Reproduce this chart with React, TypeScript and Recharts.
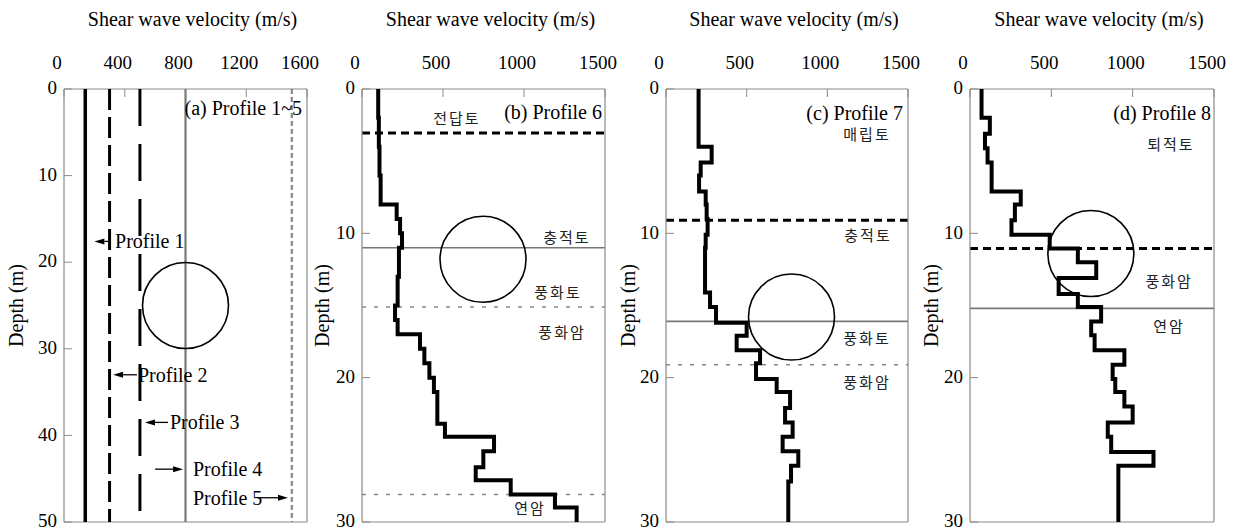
import React from 'react';
import { ScatterChart, Scatter, XAxis, YAxis, ReferenceLine, ReferenceDot } from 'recharts';

const H = 528;
const SERIF = '"Liberation Serif", "Times New Roman", serif';
const KR = '"Noto Sans CJK KR", "Noto Sans", sans-serif';
const GRAY = '#8a8a8a';

// ---------- axes / titles ----------
const xTicksA = [0, 400, 800, 1200, 1600];
const xTicksB = [0, 500, 1000, 1500];
const yTicksA = [0, 10, 20, 30, 40, 50];
const yTicksB = [0, 10, 20, 30];
const axisTitle = 'Shear wave velocity (m/s)';
const depthTitle = 'Depth (m)';
const panelTitles = ['(a) Profile 1~5', '(b) Profile 6', '(c) Profile 7', '(d) Profile 8'];
const panelTitleV = [1567, 1481, 1469, 1482];
const panelTitleD = [2.2, 1.6, 1.66, 1.66];

// ---------- panel (a): uniform profiles ----------
const uniformNames = ['Profile 1', 'Profile 2', 'Profile 3', 'Profile 4', 'Profile 5'];
const uniformVs = [140, 300, 500, 800, 1500];
const uniformArrowDepth = [17.6, 33.0, 38.5, 43.9, 47.2];
const uniformArrowTail = [300, 480, 685, 600, 1270];
const uniformArrowHead = [200, 323, 533, 784, 1475];
const uniformLabelV = [336, 487, 698, 849, 849];

// ---------- panel (b): profile 6 ----------
const p6Depths = [0, 2, 4, 6, 8, 9, 10, 11, 13, 15, 16, 17, 18, 19, 20, 21, 23.2, 24.1, 25.1, 26.2, 27.1, 28.1, 29, 30];
const p6Vs = [100, 104, 108, 115, 214, 235, 247, 228, 220, 204, 220, 358, 385, 416, 444, 465, 512, 815, 749, 702, 918, 1191, 1325];
const p6ThickDashed = [3.05];
const p6Solid = [11.0];
const p6ThinDashed = [15.1, 28.1];
const p6LayerNames = ['전답토', '충적토', '풍화토', '풍화암', '연암'];
const p6LayerV = [586, 1265, 1210, 1235, 1037];
const p6LayerD = [2.0, 10.2, 14.0, 16.8, 29.0];

// ---------- panel (c): profile 7 ----------
const p7Depths = [0, 4, 5.1, 6, 7.1, 8, 9, 10.1, 11, 14.1, 15.1, 16.2, 17.1, 18.1, 19, 20.1, 21, 22.1, 23.1, 24.1, 25.1, 26.1, 27.2, 30];
const p7Vs = [202, 283, 215, 205, 246, 252, 258, 246, 242, 273, 310, 500, 438, 583, 558, 686, 769, 738, 785, 723, 820, 775, 758];
const p7ThickDashed = [9.1];
const p7Solid = [16.1];
const p7ThinDashed = [19.1];
const p7LayerNames = ['매립토', '충적토', '풍화토', '풍화암'];
const p7LayerV = [1246, 1252, 1246, 1246];
const p7LayerD = [3.05, 10.1, 17.2, 20.3];

// ---------- panel (d): profile 8 ----------
const p8Depths = [0, 2, 3.1, 4.1, 5.1, 7.1, 8, 9.1, 10.1, 11.05, 12, 13.1, 14.2, 15.1, 16.1, 17.06, 18.1, 19.1, 20.1, 21, 22, 23.1, 24.1, 25.15, 26.1, 30];
const p8Vs = [71, 122, 92, 108, 133, 312, 276, 255, 490, 663, 776, 545, 663, 806, 745, 766, 949, 877, 893, 949, 1000, 847, 868, 1128, 912];
const p8ThickDashed = [11.05];
const p8Solid = [15.2];
const p8ThinDashed: number[] = [];
const p8LayerNames = ['퇴적토', '풍화암', '연암'];
const p8LayerV = [1235, 1224, 1224];
const p8LayerD = [3.8, 13.25, 16.4];

// ---------- highlighted zones (circles) ----------
const circleV = [800, 747, 778, 743];
const circleD = [25, 11.8, 15.8, 11.4];

function steps(depths: number[], vs: number[]) {
  const pts: { v: number; d: number }[] = [];
  vs.forEach((v, i) => {
    pts.push({ v, d: depths[i] });
    pts.push({ v, d: depths[i + 1] });
  });
  return pts;
}

const noShape = () => <g />;

const textShape = (anchor: string, family: string, size: number, fill: string, spacing = 0) => (p: any) => (
  <text
    x={p.cx}
    y={p.cy}
    textAnchor={anchor}
    dominantBaseline="central"
    fontFamily={family}
    fontSize={size}
    fill={fill}
    letterSpacing={spacing}
  >
    {p.payload.text}
  </text>
);

const Arrow = (p: any) => {
  const { x1, y1, x2, y2 } = p;
  const dx = x2 - x1;
  const dy = y2 - y1;
  const len = Math.hypot(dx, dy) || 1;
  const ux = dx / len;
  const uy = dy / len;
  const hl = 10;
  const hw = 3;
  const bx = x2 - ux * hl;
  const by = y2 - uy * hl;
  return (
    <g>
      <line x1={x1} y1={y1} x2={bx} y2={by} stroke="#000" strokeWidth={1.3} />
      <polygon points={`${x2},${y2} ${bx - uy * hw},${by + ux * hw} ${bx + uy * hw},${by - ux * hw}`} fill="#000" />
    </g>
  );
};

type PanelProps = {
  left: number;
  width: number;
  yAxisWidth: number;
  marginRight: number;
  xMax: number;
  xTicks: number[];
  yMax: number;
  yTicks: number[];
  depthOffset: number;
  children?: React.ReactNode;
};

function Panel({ left, width, yAxisWidth, marginRight, xMax, xTicks, yMax, yTicks, depthOffset, children }: PanelProps) {
  const tickStyle = { fill: '#000', fontSize: 19, fontFamily: SERIF };
  const plotLeft = yAxisWidth;
  const plotRight = width - marginRight - 1;
  const plotTop = 89;
  const plotBottom = H - 5 - 1;
  const titleX = (plotLeft + plotRight) / 2 + 7;
  const depthX = plotLeft + depthOffset;
  const depthY = (plotTop + plotBottom) / 2;
  return (
    <div style={{ position: 'absolute', left, top: 0, width, height: H }}>
      <ScatterChart width={width} height={H} margin={{ top: 0, right: marginRight, bottom: 5, left: 0 }}>
        <XAxis
          type="number"
          dataKey="v"
          orientation="top"
          domain={[0, xMax]}
          ticks={xTicks}
          interval={0}
          height={89}
          tickSize={-8}
          tickMargin={28}
          tick={{ ...tickStyle, dx: -7 }}
          axisLine={{ stroke: GRAY, strokeWidth: 1.2 }}
          tickLine={{ stroke: GRAY }}
          label={() => (
            <text x={titleX} y={26} textAnchor="middle" fontFamily={SERIF} fontSize={20} fill="#000">
              {axisTitle}
            </text>
          )}
        />
        <XAxis
          xAxisId="m"
          type="number"
          orientation="bottom"
          domain={[0, xMax]}
          ticks={xTicks}
          interval={0}
          height={1}
          tickSize={-8}
          tick={false}
          axisLine={{ stroke: GRAY, strokeWidth: 1.2 }}
          tickLine={{ stroke: GRAY }}
        />
        <YAxis
          type="number"
          dataKey="d"
          orientation="left"
          reversed
          domain={[0, yMax]}
          ticks={yTicks}
          interval={0}
          width={yAxisWidth}
          tickSize={-8}
          tickMargin={15}
          tick={{ ...tickStyle, dy: -1.5 }}
          axisLine={{ stroke: GRAY, strokeWidth: 1.2 }}
          tickLine={{ stroke: GRAY }}
          label={() => (
            <text
              x={depthX}
              y={depthY}
              textAnchor="middle"
              dominantBaseline="central"
              transform={`rotate(-90, ${depthX}, ${depthY})`}
              fontFamily={SERIF}
              fontSize={20}
              fill="#000"
            >
              {depthTitle}
            </text>
          )}
        />
        <YAxis
          yAxisId="m"
          type="number"
          orientation="right"
          reversed
          domain={[0, yMax]}
          ticks={yTicks}
          interval={0}
          width={1}
          tickSize={-8}
          tick={false}
          axisLine={{ stroke: GRAY, strokeWidth: 1.2 }}
          tickLine={{ stroke: GRAY }}
        />
        {children}
      </ScatterChart>
    </div>
  );
}

function layerLines(thick: number[], solid: number[], thin: number[], key: string) {
  return [
    ...thick.map((d, i) => (
      <ReferenceLine key={`${key}k${i}`} y={d} stroke="#000" strokeWidth={3} strokeDasharray="8 5" />
    )),
    ...solid.map((d, i) => <ReferenceLine key={`${key}s${i}`} y={d} stroke="#777" strokeWidth={1.6} />),
    ...thin.map((d, i) => (
      <ReferenceLine key={`${key}t${i}`} y={d} stroke="#888" strokeWidth={1.5} strokeDasharray="4 8" />
    )),
  ];
}

function layerLabels(names: string[], vs: number[], ds: number[]) {
  const data = names.map((text, i) => ({ v: vs[i], d: ds[i], text }));
  return (
    <Scatter data={data} shape={textShape('middle', KR, 15, '#222', 2)} isAnimationActive={false} />
  );
}

function panelTitle(i: number) {
  return (
    <Scatter
      data={[{ v: panelTitleV[i], d: panelTitleD[i], text: panelTitles[i] }]}
      shape={textShape('end', SERIF, 20, '#000')}
      isAnimationActive={false}
    />
  );
}

function circle(i: number) {
  return <ReferenceDot x={circleV[i]} y={circleD[i]} r={43} fill="none" stroke="#000" strokeWidth={1.6} />;
}

const uniformLineStyles = [
  { stroke: '#000', strokeWidth: 3.5 },
  { stroke: '#000', strokeWidth: 3, strokeDasharray: '21 7' },
  { stroke: '#000', strokeWidth: 3, strokeDasharray: '37 18' },
  { stroke: '#7a7a7a', strokeWidth: 2.2 },
  { stroke: '#888', strokeWidth: 2.2, strokeDasharray: '5 3' },
];

export default function App() {
  const uniformLabelData = uniformNames.map((text, i) => ({ v: uniformLabelV[i], d: uniformArrowDepth[i], text }));
  return (
    <div style={{ position: 'absolute', left: 0, top: 0, width: 1235, height: H, background: '#fff' }}>
      <Panel left={0} width={330} yAxisWidth={64} marginRight={22} xMax={1600} xTicks={xTicksA} yMax={50} yTicks={yTicksA} depthOffset={-48}>
        {uniformVs.map((v, i) => (
          <Scatter
            key={`u${i}`}
            data={[{ v, d: 0 }, { v, d: 50 }]}
            line={uniformLineStyles[i]}
            lineType="joint"
            shape={noShape}
            isAnimationActive={false}
          />
        ))}
        {circle(0)}
        {uniformArrowDepth.map((d, i) => (
          <ReferenceLine
            key={`ar${i}`}
            segment={[{ x: uniformArrowTail[i], y: d }, { x: uniformArrowHead[i], y: d }]}
            shape={Arrow}
            ifOverflow="visible"
          />
        ))}
        <Scatter data={uniformLabelData} shape={textShape('start', SERIF, 20, '#000')} isAnimationActive={false} />
        {panelTitle(0)}
      </Panel>

      <Panel left={310} width={320} yAxisWidth={52} marginRight={24} xMax={1500} xTicks={xTicksB} yMax={30} yTicks={yTicksB} depthOffset={-40}>
        {layerLines(p6ThickDashed, p6Solid, p6ThinDashed, 'b')}
        {circle(1)}
        <Scatter data={steps(p6Depths, p6Vs)} line={{ stroke: '#000', strokeWidth: 4 }} lineType="joint" shape={noShape} isAnimationActive={false} />
        {layerLabels(p6LayerNames, p6LayerV, p6LayerD)}
        {panelTitle(1)}
      </Panel>

      <Panel left={610} width={325} yAxisWidth={56} marginRight={26} xMax={1500} xTicks={xTicksB} yMax={30} yTicks={yTicksB} depthOffset={-38}>
        {layerLines(p7ThickDashed, p7Solid, p7ThinDashed, 'c')}
        {circle(2)}
        <Scatter data={steps(p7Depths, p7Vs)} line={{ stroke: '#000', strokeWidth: 4 }} lineType="joint" shape={noShape} isAnimationActive={false} />
        {layerLabels(p7LayerNames, p7LayerV, p7LayerD)}
        {panelTitle(2)}
      </Panel>

      <Panel left={915} width={320} yAxisWidth={55} marginRight={20} xMax={1500} xTicks={xTicksB} yMax={30} yTicks={yTicksB} depthOffset={-39}>
        {layerLines(p8ThickDashed, p8Solid, p8ThinDashed, 'd')}
        {circle(3)}
        <Scatter data={steps(p8Depths, p8Vs)} line={{ stroke: '#000', strokeWidth: 4 }} lineType="joint" shape={noShape} isAnimationActive={false} />
        {layerLabels(p8LayerNames, p8LayerV, p8LayerD)}
        {panelTitle(3)}
      </Panel>
    </div>
  );
}
